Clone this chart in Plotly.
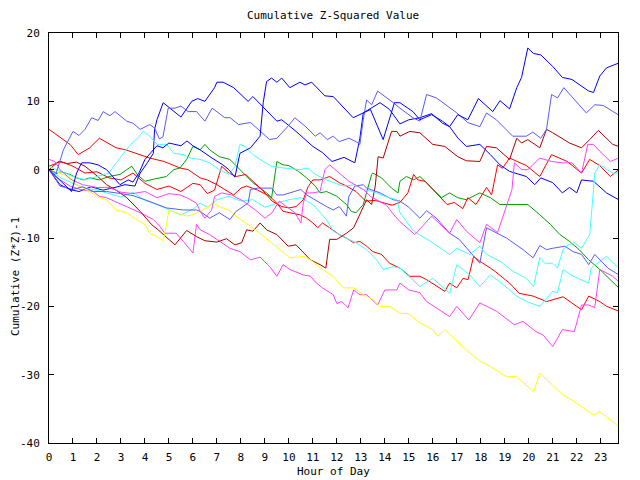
import plotly.graph_objects as go

# ---- data: (hour of day, cumulative (Z*Z)-1) ----
blue1 = [(0,0),(0.45,-1.6),(0.94,-3.2),(1.15,-0.5),(1.36,1.0),(1.7,1.0),(2.05,0.7),(2.4,0.0),(2.96,-2.2),(3.3,-1.5),(3.5,-1.8),(3.75,-0.5),(4.0,1.5),(4.25,2.5),(4.5,3.5),(4.75,3.2),(5.0,3.9),(5.5,3.5),(5.75,4.2),(6.0,3.5),(6.3,2.9),(6.75,1.8),(7.25,0.7),(7.5,0.0),(7.75,-1.1),(7.96,2.4),(8.4,3.2),(8.8,4.9),(8.93,9.8),(9.07,12.9),(9.28,13.4),(9.5,12.8),(9.7,13.4),(10.04,12.0),(10.46,12.8),(10.67,12.4),(10.95,12.8),(11.5,10.8),(11.85,10.7),(12.68,7.6),(13.4,8.8),(13.93,4.4),(14.4,9.8),(14.63,9.8),(15.17,8.5),(15.46,7.3),(15.95,8.05),(16.4,7.1),(16.7,6.3),(17.04,8.05),(17.46,7.3),(17.9,10.4),(18.5,8.5),(18.8,10.1),(19.2,8.9),(19.5,12.0),(19.7,13.5),(19.96,17.8),(20.2,17.0),(20.5,16.8),(21.0,15.1),(21.4,13.5),(21.8,13.2),(22.5,11.5),(22.7,11.3),(22.96,13.7),(23.24,14.9),(23.75,15.6)]

blue2 = [(0,0),(0.46,-2.2),(0.875,-2.9),(1.25,-3.2),(1.75,-2.5),(2.25,-3.0),(2.75,-2.6),(3.17,-2.2),(3.58,-2.4),(3.8,-0.5),(4.1,1.0),(4.35,2.4),(4.4,5.9),(4.5,7.3),(4.76,9.8),(5.1,8.8),(5.5,7.7),(5.95,10.0),(6.2,10.4),(6.5,10.0),(6.9,12.0),(7.0,12.8),(7.26,12.8),(7.7,12.0),(8.3,10.0),(8.5,10.7),(8.7,10.0),(9.1,8.5),(9.5,7.1),(9.7,7.3),(10.3,5.6),(11.0,3.4),(11.4,2.5),(11.8,1.2),(12.3,1.8),(12.75,1.0),(12.96,4.6),(13.1,8.3),(13.45,9.0),(13.8,9.8),(14.2,8.8),(14.63,6.7),(15.0,7.3),(15.46,7.6),(15.95,8.2),(16.4,6.8),(16.7,6.3),(17.05,4.6),(17.4,3.4),(17.96,3.7),(18.4,2.2),(18.8,0.7),(19.2,-0.25),(19.9,-1.0),(20.25,-2.2),(20.5,-1.2),(21.0,-1.9),(21.4,-3.4),(21.7,-2.6),(22.0,-3.4),(22.2,-1.5),(22.7,-1.7),(23.24,-3.4),(23.75,-4.4)]

slate1 = [(0,0),(0.3,-0.5),(0.6,2.9),(1.0,5.6),(1.25,5.0),(1.5,5.9),(1.78,7.6),(2.05,7.2),(2.26,8.5),(2.54,7.9),(2.75,8.5),(3.0,7.8),(3.24,7.1),(3.5,6.8),(3.8,5.9),(4.2,6.6),(4.4,6.1),(4.6,4.5),(4.75,4.8),(4.97,9.0),(5.25,9.0),(5.5,9.3),(5.8,8.5),(6.15,8.5),(6.5,7.1),(6.8,9.0),(7.33,7.6),(7.55,7.6),(7.9,6.6),(8.4,6.9),(8.8,5.6),(9.2,4.4),(9.5,4.6),(9.9,6.1),(10.25,7.6),(10.7,6.3),(11.1,4.9),(11.3,5.4),(11.6,4.4),(11.85,4.9),(12.1,4.1),(12.5,4.6),(12.8,4.1),(12.96,3.7),(13.1,7.3),(13.24,10.2),(13.45,9.5),(13.7,11.5),(14.35,9.8),(14.63,9.0),(15.17,7.6),(15.46,7.1),(15.74,11.0),(16.15,10.5),(17.0,8.3),(17.46,6.9),(17.96,6.3),(18.24,8.3),(18.65,7.3),(19.33,4.9),(19.9,4.9),(20.17,5.5),(20.5,4.6),(20.74,5.9),(20.95,11.0),(21.2,10.5),(21.46,12.0),(22.4,8.3),(22.75,9.5),(23.1,9.4),(23.75,8.0)]

darkred = [(0,0),(0.4,1.2),(0.75,0.9),(1.15,1.1),(1.5,0.5),(2.0,-0.9),(2.4,-2.2),(2.8,-3.0),(3.24,-4.1),(3.8,-6.1),(4.28,-8.05),(4.55,-8.8),(5.25,-11.0),(5.74,-8.9),(6.15,-9.8),(6.5,-10.4),(7.0,-10.6),(7.4,-10.1),(7.75,-11.0),(8.03,-10.7),(8.24,-8.8),(8.5,-9.0),(8.8,-7.8),(9.07,-8.8),(9.5,-9.5),(9.97,-11.2),(10.3,-11.0),(10.9,-13.2),(11.3,-13.9),(11.54,-14.4),(11.7,-10.2),(12.0,-10.2),(12.4,-9.3),(12.7,-8.5),(13.24,-4.4),(13.45,-5.1),(13.6,-2.4),(13.72,1.9),(13.93,1.7),(14.28,5.6),(14.5,5.6),(14.63,4.9),(15.04,5.6),(15.46,5.4),(16.0,3.7),(16.5,3.4),(17.04,1.9),(17.4,1.3),(17.96,1.2),(18.24,3.4),(18.65,3.2),(19.2,1.5),(19.5,4.6),(19.7,3.9),(19.96,4.4),(20.46,3.2),(20.74,5.9),(21.0,5.4),(21.7,3.9),(22.2,3.2),(22.54,4.4),(22.9,5.75),(23.5,3.7),(23.75,3.4)]

red1 = [(0,0.5),(0.5,1.2),(1.0,0.5),(1.5,-0.5),(2.0,-0.3),(2.5,-1.2),(3.0,-1.5),(3.5,-0.5),(4.0,-2.0),(4.5,-2.9),(5.0,-2.4),(5.5,-3.2),(6.0,-2.0),(6.3,-2.2),(6.6,-3.5),(6.9,-3.0),(7.2,0.5),(7.5,-0.5),(7.8,-1.0),(8.2,-0.7),(8.5,-1.7),(8.9,-3.0),(9.3,-4.6),(9.7,-5.4),(10.0,-5.6),(10.3,-5.4),(10.6,-4.4),(10.8,-2.5),(11.0,-1.5),(11.3,-1.5),(11.7,-1.0),(12.1,-1.9),(12.4,-2.4),(12.8,-3.2),(13.2,-4.6),(13.6,-4.5),(14.0,-4.9),(14.3,-5.2),(14.63,-4.8),(14.96,-3.4),(15.2,-0.7),(15.375,-1.5),(15.67,-1.7),(16.15,-3.4),(16.6,-5.1),(16.9,-4.8),(17.25,-5.7),(17.46,-4.1),(17.8,-5.1),(18.24,-2.6),(18.45,-3.7),(18.7,0.7),(18.9,0.2),(19.2,1.7),(19.9,0.6),(20.46,-1.0),(20.95,2.2),(21.6,1.2),(22.2,-0.5),(22.54,1.5),(22.96,0.6),(23.4,-1.0),(23.75,0.0)]

red2 = [(0,5.9),(0.46,4.7),(0.875,3.7),(1.22,2.2),(1.7,3.2),(2.1,4.6),(2.47,3.9),(2.8,3.2),(3.2,2.9),(3.6,2.4),(4.2,1.7),(4.8,1.2),(5.46,0.25),(5.8,0.0),(6.3,-1.2),(6.6,-1.5),(7.0,-2.2),(7.7,-3.7),(8.0,-2.7),(8.24,-2.4),(8.7,-3.0),(9.2,-3.9),(9.5,-4.9),(9.76,-6.1),(10.04,-6.3),(10.46,-6.6),(10.74,-7.1),(11.0,-7.8),(11.2,-8.5),(11.4,-7.8),(11.7,-8.5),(12.1,-9.5),(12.4,-10.0),(12.7,-10.7),(12.96,-10.5),(13.24,-11.2),(13.5,-12.0),(13.86,-12.4),(14.2,-13.7),(14.63,-14.4),(15.04,-15.6),(15.46,-15.6),(15.74,-16.1),(16.5,-17.8),(16.7,-16.6),(17.0,-17.3),(17.26,-15.9),(17.47,-16.1),(17.7,-12.7),(17.96,-13.4),(18.4,-14.4),(18.6,-14.9),(19.2,-16.6),(19.6,-18.1),(20.18,-18.5),(20.74,-19.3),(21.43,-18.6),(22.2,-20.5),(22.5,-18.5),(22.96,-19.3),(23.24,-20.0),(23.75,-20.7)]

green = [(0,0),(0.2,-0.7),(0.5,-0.3),(0.875,-0.7),(1.15,-1.2),(1.43,-1.5),(1.7,-1.2),(2.1,-1.5),(2.5,-1.0),(2.96,-0.7),(3.24,0.0),(3.45,0.5),(3.7,-0.8),(4.0,-1.7),(4.35,-1.4),(4.9,-1.0),(5.2,0.0),(5.46,0.25),(5.74,1.5),(6.0,3.4),(6.3,2.9),(6.5,3.7),(6.7,2.9),(7.1,1.9),(7.54,1.5),(8.1,-0.5),(8.5,-1.9),(9.07,-3.4),(9.28,-4.1),(9.5,1.2),(9.76,0.7),(10.0,0.6),(10.4,-0.25),(10.74,-1.2),(11.1,-2.4),(11.3,-3.4),(11.57,-3.2),(12.0,-3.9),(12.4,-5.1),(12.6,-6.1),(12.8,-6.3),(13.1,-5.1),(13.24,-3.4),(13.45,-0.7),(13.5,-0.5),(13.86,-1.2),(14.28,-2.7),(14.55,-3.4),(14.63,-1.7),(14.9,-1.0),(15.2,-1.5),(15.46,-1.0),(15.74,-1.9),(16.15,-3.4),(16.36,-4.1),(16.7,-3.4),(17.04,-4.1),(17.4,-4.4),(17.96,-3.4),(18.4,-4.1),(18.8,-5.1),(19.5,-5.1),(19.96,-5.1),(20.46,-6.6),(20.9,-8.0),(21.3,-9.5),(21.7,-10.5),(22.1,-11.7),(22.5,-13.2),(22.96,-14.6),(23.4,-16.1),(23.75,-17.3)]

yellow = [(0,0),(0.46,-0.5),(0.875,-1.2),(1.15,-2.2),(1.7,-3.2),(2.1,-4.1),(2.4,-4.4),(2.8,-5.9),(3.24,-6.3),(3.65,-7.3),(4.0,-8.0),(4.2,-9.3),(4.5,-9.8),(4.76,-10.4),(4.9,-8.0),(5.0,-5.9),(5.3,-6.3),(5.75,-6.8),(6.0,-6.6),(6.3,-6.1),(6.57,-5.6),(6.85,-4.9),(7.1,-5.4),(7.5,-5.9),(7.8,-6.8),(8.4,-8.3),(8.8,-9.3),(9.2,-10.5),(9.6,-11.7),(10.04,-12.9),(10.6,-12.7),(10.9,-13.2),(11.4,-14.6),(11.85,-15.6),(12.26,-17.3),(12.7,-17.3),(13.1,-18.3),(13.5,-19.0),(13.8,-20.0),(14.2,-20.0),(14.63,-21.0),(15.0,-21.1),(15.2,-21.7),(15.46,-22.4),(16.0,-23.4),(16.2,-24.4),(16.5,-23.4),(17.0,-25.0),(17.4,-26.4),(17.96,-28.0),(18.4,-28.8),(19.07,-30.3),(19.5,-30.3),(20.2,-32.5),(20.46,-29.8),(20.74,-30.7),(21.4,-32.9),(21.8,-33.7),(22.4,-35.1),(22.7,-35.9),(22.96,-35.4),(23.75,-37.6)]

magenta1 = [(0,1.5),(0.25,1.2),(0.46,0.0),(0.9,-1.4),(1.4,-2.2),(2.0,-2.6),(2.5,-2.6),(3.0,-3.3),(3.5,-3.5),(4.0,-3.2),(4.5,-4.1),(5.0,-3.5),(5.46,-3.7),(5.74,-4.1),(6.15,-4.9),(6.3,-6.1),(6.5,-7.1),(6.78,-5.9),(6.9,-3.9),(7.2,-3.4),(7.6,-3.7),(8.1,-4.6),(8.6,-5.9),(9.0,-7.1),(9.3,-6.3),(9.6,-4.6),(9.9,-5.4),(10.25,-6.3),(10.5,-7.8),(10.6,-4.9),(10.74,-3.4),(11.0,-3.4),(11.3,-3.2),(11.5,0.0),(11.7,0.7),(12.1,-0.5),(12.5,-1.7),(13.1,-2.9),(13.4,-3.9),(13.65,-4.4),(14.07,-5.2),(14.35,-6.5),(14.63,-7.6),(15.25,-9.5),(15.5,-8.5),(15.95,-6.8),(16.7,-9.3),(17.0,-7.3),(17.4,-9.0),(17.96,-10.7),(18.24,-8.0),(18.7,-9.2),(19.3,-2.9),(19.4,1.0),(19.7,0.0),(19.96,0.0),(20.46,1.7),(20.95,1.2),(21.4,1.0),(21.8,1.0),(22.2,-0.5),(22.46,3.7),(22.7,3.7),(22.96,2.7),(23.4,1.2),(23.75,1.7)]

magenta2 = [(0,0),(0.25,-1.0),(0.875,-2.4),(1.3,-2.9),(1.85,-3.2),(2.1,-3.9),(2.4,-4.1),(3.24,-5.4),(3.8,-6.3),(4.35,-7.3),(4.6,-8.2),(4.83,-9.3),(5.3,-9.3),(5.6,-10.5),(6.0,-12.2),(6.15,-8.0),(6.3,-8.8),(6.7,-9.5),(7.1,-10.5),(7.54,-11.5),(7.96,-12.0),(8.4,-13.2),(8.8,-12.8),(9.2,-14.2),(9.5,-15.6),(9.76,-13.9),(10.04,-14.6),(10.6,-15.4),(10.9,-15.6),(11.15,-16.6),(11.4,-17.3),(11.85,-18.3),(12.0,-19.6),(12.2,-19.3),(12.47,-20.2),(12.7,-17.6),(12.96,-18.3),(13.24,-18.3),(13.7,-19.8),(14.0,-17.6),(14.5,-17.6),(14.63,-16.6),(15.0,-17.6),(15.46,-18.0),(15.74,-19.3),(16.2,-20.3),(16.7,-21.5),(17.0,-20.0),(17.5,-22.0),(17.96,-19.5),(18.65,-20.7),(19.4,-22.7),(19.76,-22.2),(20.3,-23.7),(20.6,-24.2),(21.0,-25.9),(21.4,-23.4),(21.9,-23.7),(22.2,-19.8),(22.5,-19.8),(22.75,-20.2),(22.96,-14.6),(23.5,-15.6),(23.75,-16.4)]

cyan1 = [(0,0.5),(0.5,-0.3),(1.0,-1.0),(1.5,-1.5),(2.0,-1.0),(2.5,-0.5),(2.8,1.0),(3.4,3.7),(3.7,4.6),(3.93,5.6),(4.2,4.9),(4.5,3.7),(4.9,3.7),(5.2,2.4),(5.6,2.2),(5.9,1.7),(6.3,1.5),(6.7,1.0),(7.1,0.0),(7.5,-0.7),(7.75,0.5),(7.96,3.7),(8.17,3.4),(8.5,2.2),(8.93,1.2),(9.28,0.5),(9.76,0.25),(10.46,0.0),(10.8,0.25),(11.1,-0.7),(11.57,-1.5),(12.26,-2.4),(12.75,-2.2),(13.1,-2.9),(13.5,-3.2),(14.0,-3.9),(14.5,-4.4),(14.63,-6.3),(15.2,-9.0),(16.0,-10.7),(16.7,-12.4),(17.0,-11.5),(17.54,-12.4),(17.96,-11.2),(18.24,-12.4),(18.8,-13.4),(19.35,-14.9),(19.9,-15.9),(20.2,-17.1),(20.46,-12.9),(20.67,-13.7),(21.0,-13.7),(21.2,-14.4),(21.43,-11.7),(21.64,-11.0),(21.9,-10.7),(22.2,-11.5),(22.54,-9.5),(22.7,-2.9),(22.75,-0.5),(22.96,0.7),(23.3,0.0),(23.5,-0.5),(23.75,-0.5)]

cyan2 = [(0,0),(0.5,-1.2),(1.0,-2.0),(1.5,-2.7),(2.0,-3.0),(2.5,-3.5),(3.0,-4.0),(3.5,-3.3),(4.0,-4.5),(4.5,-5.1),(5.0,-5.9),(5.5,-6.6),(6.0,-5.8),(6.3,-4.9),(6.6,-5.5),(7.0,-4.4),(7.5,-3.9),(8.0,-4.6),(8.5,-4.4),(9.0,-5.5),(9.5,-4.9),(10.0,-4.4),(10.5,-4.1),(11.0,-5.1),(11.57,-7.3),(11.85,-9.0),(12.26,-9.8),(12.8,-10.7),(13.24,-11.7),(13.65,-13.2),(13.93,-14.6),(14.35,-14.2),(14.63,-14.4),(15.0,-15.6),(15.46,-17.1),(16.0,-15.9),(16.7,-18.1),(17.0,-13.9),(17.54,-15.4),(17.96,-17.1),(18.4,-15.4),(19.0,-17.0),(19.5,-18.5),(19.9,-19.3),(20.46,-20.0),(21.0,-17.8),(21.2,-18.0),(21.43,-14.6),(21.85,-15.6),(22.5,-16.6),(22.6,-14.4),(23.24,-12.7),(23.75,-14.4)]

slate2 = [(0,0),(0.46,-2.4),(1.0,-2.9),(1.4,-2.5),(1.85,-3.2),(2.4,-3.2),(3.0,-3.5),(3.5,-3.8),(4.0,-4.4),(4.5,-5.1),(4.9,-5.6),(5.6,-5.9),(6.15,-5.9),(6.3,-6.1),(6.7,-7.1),(7.1,-6.3),(7.54,-7.3),(7.8,-6.1),(8.3,-4.9),(8.4,-2.9),(8.7,-2.7),(9.28,-2.7),(9.5,-3.7),(9.76,-3.7),(10.2,-3.2),(10.5,-2.9),(10.74,-3.7),(11.3,-4.9),(11.57,-5.4),(11.85,-5.9),(12.1,-5.4),(12.4,-6.8),(12.5,-3.9),(12.75,-2.4),(13.1,-2.2),(13.24,-2.7),(13.8,-3.4),(14.07,-3.9),(14.35,-4.4),(14.63,-4.6),(15.0,-5.5),(15.46,-7.1),(15.74,-6.0),(16.15,-7.1),(16.7,-9.3),(17.1,-10.2),(17.96,-13.7),(18.24,-8.5),(18.65,-9.3),(19.07,-10.0),(19.76,-11.7),(20.18,-12.9),(20.46,-11.1),(20.74,-11.7),(21.0,-11.5),(21.5,-11.2),(21.85,-12.0),(22.2,-12.4),(22.5,-13.9),(22.75,-12.4),(23.3,-14.4),(23.75,-15.4)]

series = [
    (red2, "#ff0000"),
    (green, "#00a000"),
    (blue2, "#0000ff"),
    (magenta2, "#ff40ff"),
    (cyan2, "#40ffff"),
    (darkred, "#b00000"),
    (yellow, "#ffff00"),
    (slate2, "#5a5aff"),
    (red1, "#ff0000"),
    (cyan1, "#40ffff"),
    (magenta1, "#ff40ff"),
    (slate1, "#5a5aff"),
    (blue1, "#0000ff"),
]

x_ticks = list(range(0, 24))
y_ticks = [-40, -30, -20, -10, 0, 10, 20]

FONT = "DejaVu Sans Mono"

fig = go.Figure()
for pts, col in series:
    fig.add_trace(go.Scatter(
        x=[p[0] for p in pts], y=[p[1] for p in pts],
        mode="lines", line=dict(color=col, width=1),
        hoverinfo="skip", showlegend=False))

axis_common = dict(
    showline=True, linecolor="black", linewidth=1, mirror="ticks",
    ticks="inside", ticklen=5, tickcolor="black", tickwidth=1,
    showgrid=False, zeroline=False,
    tickfont=dict(family=FONT, size=11, color="black"),
)

fig.update_xaxes(range=[0, 23.72], tickvals=x_ticks, ticktext=[str(t) for t in x_ticks],
                 ticklabelstandoff=4, **axis_common)
fig.update_yaxes(range=[-40, 20], tickvals=y_ticks, ticktext=[str(t) for t in y_ticks],
                 ticklabelstandoff=6, **axis_common)

# page body has an 8px default margin: the figure is sized/offset to compensate
OFF = 8
W, H = 640 - OFF, 480 - OFF
L, R, T, B = 49 - OFF, 22, 33 - OFF, 37
PW, PH = W - L - R, H - T - B

def px(xp):
    return (xp - OFF - L) / PW

def py(yp):
    return (H - B - (yp - OFF)) / PH

fig.update_layout(
    width=W, height=H,
    margin=dict(l=L, r=R, t=T, b=B, autoexpand=False),
    paper_bgcolor="white", plot_bgcolor="white",
    showlegend=False,
    annotations=[
        dict(text="Cumulative Z-Squared Value", xref="paper", yref="paper",
             x=px(332.5), y=py(16), xanchor="center", yanchor="middle",
             showarrow=False, font=dict(family=FONT, size=11, color="black")),
        dict(text="Hour of Day", xref="paper", yref="paper",
             x=px(333.5), y=py(471), xanchor="center", yanchor="middle",
             showarrow=False, font=dict(family=FONT, size=11, color="black")),
        dict(text="Cumulative (Z*Z)-1", xref="paper", yref="paper",
             x=px(15), y=py(277), xanchor="center", yanchor="middle", textangle=-90,
             showarrow=False, font=dict(family=FONT, size=11, color="black")),
    ],
)

fig.write_html("out.html")
